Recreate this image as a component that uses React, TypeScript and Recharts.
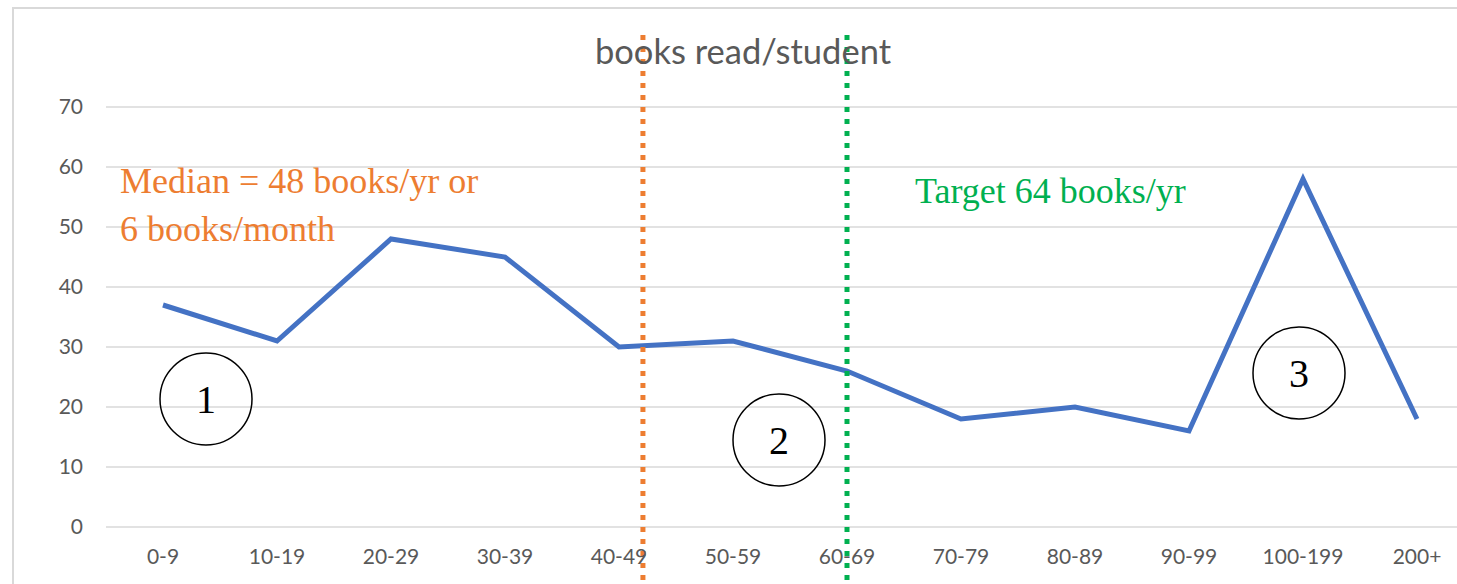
import React from 'react';
import { LineChart, Line, XAxis, YAxis, CartesianGrid, ReferenceLine } from 'recharts';

const categories = ['0-9', '10-19', '20-29', '30-39', '40-49', '50-59', '60-69', '70-79', '80-89', '90-99', '100-199', '200+'];
const students = [37, 31, 48, 45, 30, 31, 26, 18, 20, 16, 58, 18];
const yTicks = [0, 10, 20, 30, 40, 50, 60, 70];

// marker positions on a 0..11 category index scale
const medianPos = 4.21;
const targetPos = 6;

const data = categories.map((name, i) => ({ name, students: students[i] }));

const gray = '#595959';
const tickFont = { fill: gray, fontSize: 21, fontFamily: 'Lato, "Open Sans", sans-serif' };
const serif = '"Liberation Serif", "DejaVu Serif", serif';

export default function App() {
  return (
    <div style={{ position: 'fixed', left: 0, top: 0, width: 1457, height: 584, overflow: 'hidden', background: '#fff' }}>
      <div
        style={{
          position: 'absolute',
          left: 12,
          top: 7,
          width: 1500,
          height: 700,
          border: '2px solid #d9d9d9',
        }}
      />
      <div style={{ position: 'absolute', left: 0, top: 0 }}>
        <LineChart width={1474} height={640} data={data} margin={{ top: 107, right: 0, left: 0, bottom: 0 }}>
          <CartesianGrid vertical={false} stroke="#d9d9d9" strokeWidth={1.5} />
          <XAxis
            dataKey="name"
            axisLine={false}
            tickLine={false}
            tickSize={0}
            tickMargin={22}
            height={113}
            interval={0}
            padding={{ left: 57, right: 57 }}
            tick={tickFont}
          />
          <XAxis
            xAxisId="n"
            type="number"
            domain={[0, categories.length - 1]}
            padding={{ left: 57, right: 57 }}
            allowDataOverflow
            hide
          />
          <YAxis
            domain={[0, 70]}
            ticks={yTicks}
            width={106}
            axisLine={false}
            tickLine={false}
            tickSize={0}
            tickMargin={23}
            tick={tickFont}
          />
          <Line
            type="linear"
            dataKey="students"
            stroke="#4472C4"
            strokeWidth={5}
            dot={false}
            isAnimationActive={false}
          />
          <ReferenceLine
            xAxisId="n"
            segment={[{ x: medianPos, y: 82 }, { x: medianPos, y: -12 }]}
            ifOverflow="visible"
            stroke="#ED7D31"
            strokeWidth={5}
            strokeDasharray="5 7"
          />
          <ReferenceLine
            xAxisId="n"
            segment={[{ x: targetPos, y: 82 }, { x: targetPos, y: -12 }]}
            ifOverflow="visible"
            stroke="#00B050"
            strokeWidth={5}
            strokeDasharray="5 7"
          />
        </LineChart>
      </div>
      <svg width={1457} height={584} style={{ position: 'absolute', left: 0, top: 0, pointerEvents: 'none' }}>
        <text x={743} y={64} textAnchor="middle" fill={gray} fontSize={34.5} fontFamily='Lato, "Open Sans", sans-serif'>
          books read/student
        </text>
        <text x={120} y={193} fill="#ED7D31" fontSize={36} fontFamily={serif}>
          Median = 48 books/yr or
        </text>
        <text x={120} y={241} fill="#ED7D31" fontSize={36} fontFamily={serif}>
          6 books/month
        </text>
        <text x={915} y={203} fill="#00B050" fontSize={36} fontFamily={serif}>
          Target 64 books/yr
        </text>
        {[
          { n: '1', cx: 206, cy: 399 },
          { n: '2', cx: 779, cy: 440 },
          { n: '3', cx: 1299, cy: 373 },
        ].map((c) => (
          <g key={c.n}>
            <circle cx={c.cx} cy={c.cy} r={46} fill="none" stroke="#000" strokeWidth={1.5} />
            <text x={c.cx} y={c.cy + 14} textAnchor="middle" fill="#000" fontSize={40} fontFamily={serif}>
              {c.n}
            </text>
          </g>
        ))}
      </svg>
    </div>
  );
}
